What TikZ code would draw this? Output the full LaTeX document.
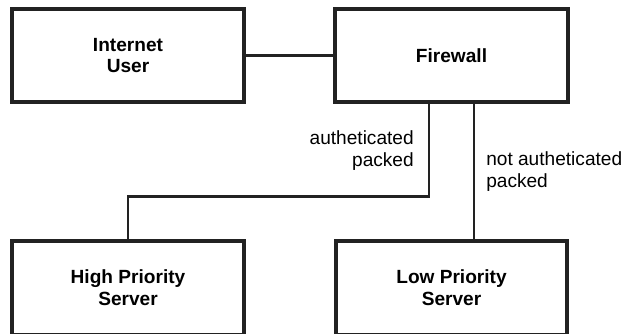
\documentclass[tikz,border=0pt]{standalone}
\usepackage{fontspec}
\setmainfont{Liberation Sans}
\newcommand{\PX}{0.03cm}
\definecolor{fwline}{RGB}{34,34,34}

\begin{document}
\begin{tikzpicture}[
    x=\PX, y=-\PX,
    box/.style={draw=fwline, line width=2.8pt, fill=white, inner sep=0pt, align=center,
                font=\fontsize{16.3}{18.7}\selectfont\bfseries},
    link/.style={draw=fwline, line width=2.2pt},
    tag/.style={font=\fontsize{16.3}{18.7}\selectfont, inner sep=0pt},
  ]
  \useasboundingbox (0,0) rectangle (623,333);

  %% ================= the boxes =================
  \node[box, minimum width=232*\PX, minimum height=93*\PX] (user) at (128,55.5)   {Internet\\User};
  \node[box, minimum width=233*\PX, minimum height=93*\PX] (fw)   at (451.5,55.5) {Firewall};
  \node[box, minimum width=232*\PX, minimum height=94*\PX] (high) at (128,288)    {High Priority\\Server};
  \node[box, minimum width=231*\PX, minimum height=94*\PX] (low)  at (451.5,288)  {Low Priority\\Server};

  %% ================= the links =================
  \coordinate (tapL) at ([xshift=-22.5*\PX]fw.south);
  \coordinate (tapR) at ([xshift=22.5*\PX]fw.south);

  \draw[link] (user.east) -- (fw.west);
  \draw[link] (tapL) -- ++(0,93)
    node[midway, left=14*\PX, tag, align=right] {autheticated\\packed}
    -| (high.north);
  \draw[link] (tapR) -- (tapR |- low.north)
    node[midway, right=11*\PX, tag, align=left] {not autheticated\\packed};

\end{tikzpicture}
\end{document}
